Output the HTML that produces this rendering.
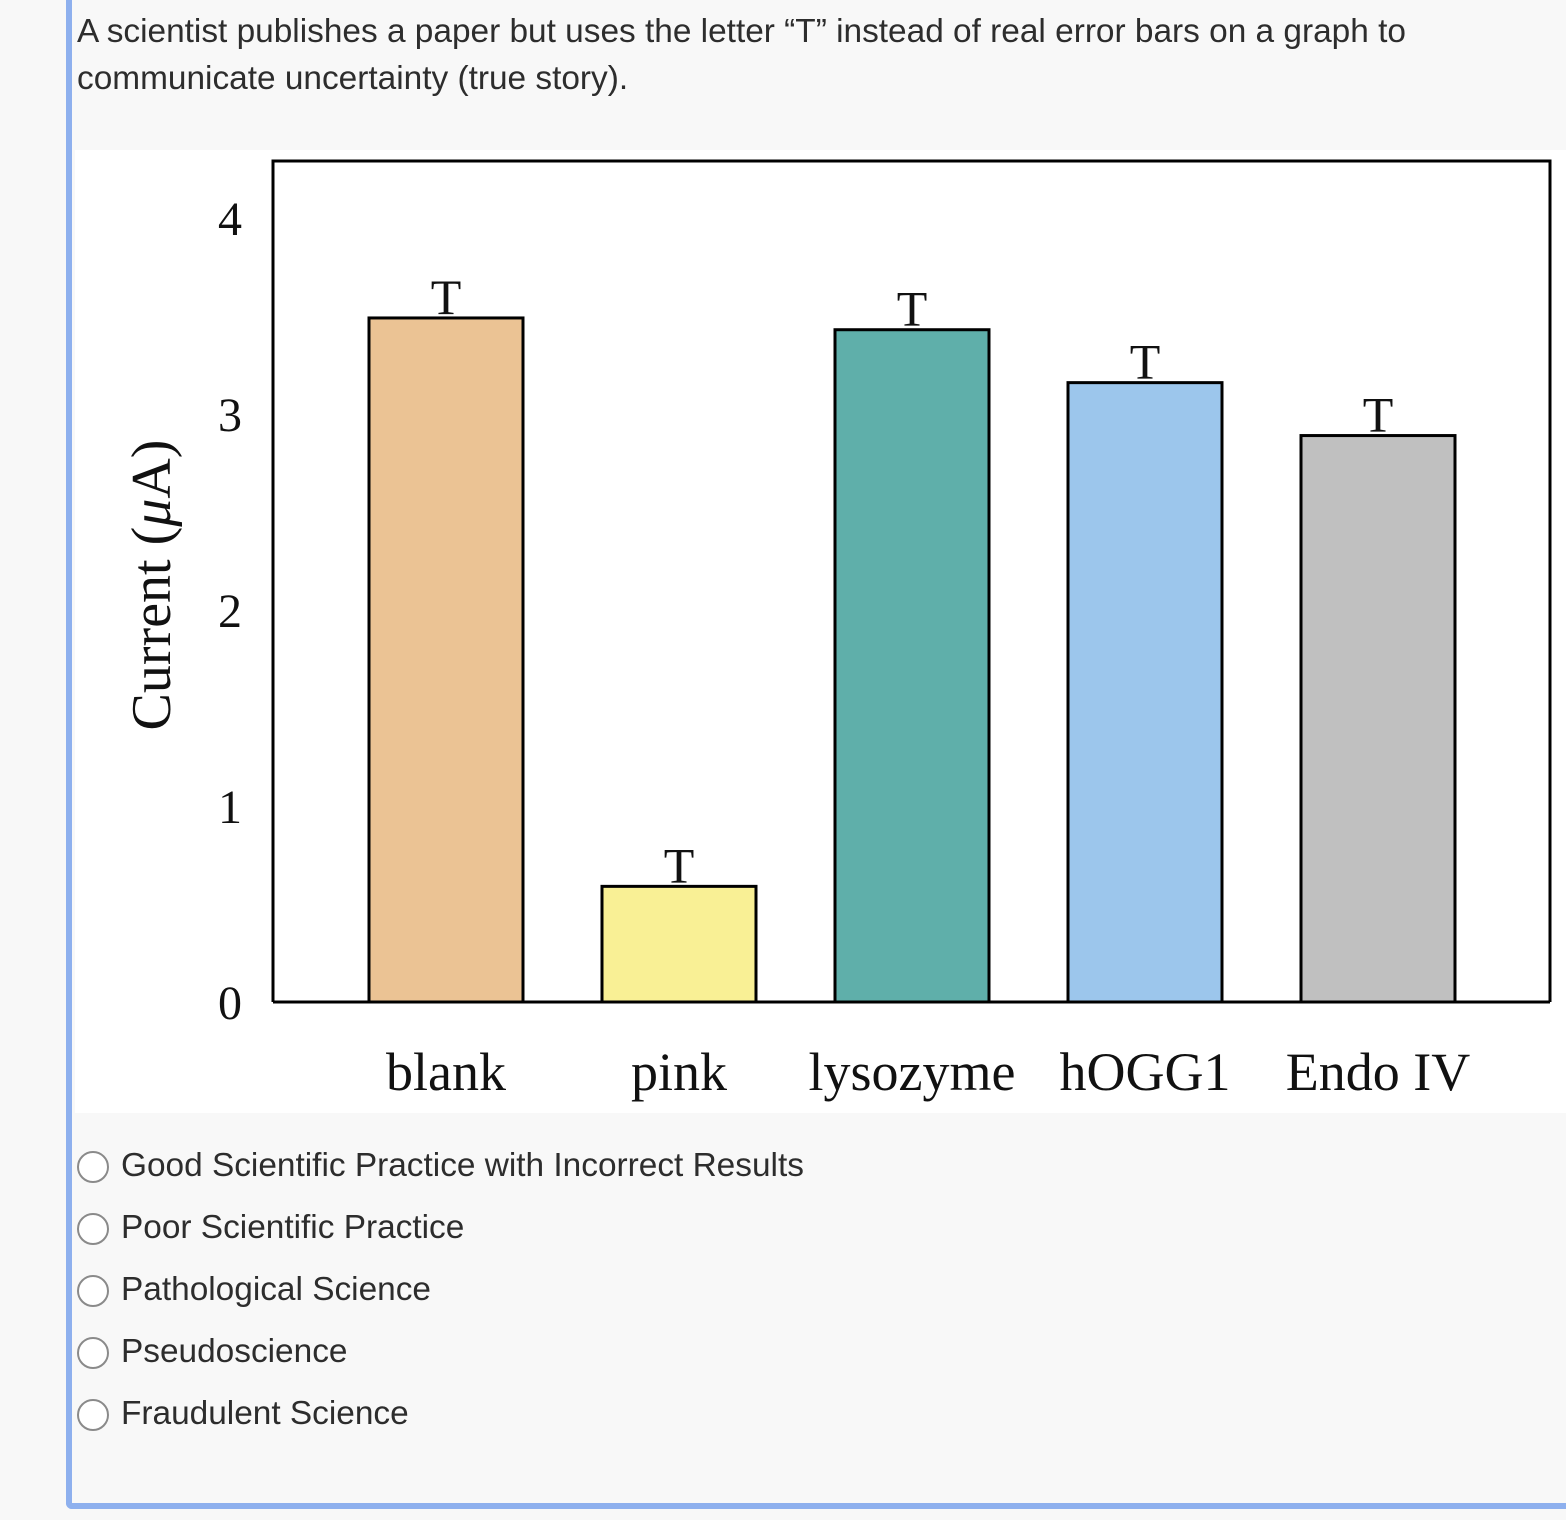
<!DOCTYPE html>
<html><head><meta charset="utf-8"><style>
body{margin:0;width:1566px;height:1520px;background:#f8f8f8;position:relative;overflow:hidden;font-family:"Liberation Sans","DejaVu Sans",sans-serif;color:#2d2d2d}
#frame{position:absolute;left:66px;top:0;width:1520px;height:1503px;border-left:6px solid #8eb0ee;border-bottom:6px solid #8eb0ee;border-bottom-left-radius:6px}
#q{position:absolute;left:77px;top:8px;font-size:33.4px;line-height:47px;width:1380px}
.opt{position:absolute;left:77px;height:40px;font-size:33.4px;line-height:40px}
.opt span.c{position:absolute;left:0px;top:5px;width:28px;height:28px;border:2px solid #8a8a8a;border-radius:50%;background:#fff}
.opt span.t{position:absolute;left:44px;white-space:nowrap}
</style></head><body>
<div id="frame"></div>
<div id="q">A scientist publishes a paper but uses the letter “T” instead of real error bars on a graph to communicate uncertainty (true story).</div>
<svg id="chart" style="position:absolute;left:0;top:0" width="1566" height="1520"></svg>
<div class="opt" style="top:1146px"><span class="c"></span><span class="t">Good Scientific Practice with Incorrect Results</span></div>
<div class="opt" style="top:1208px"><span class="c"></span><span class="t">Poor Scientific Practice</span></div>
<div class="opt" style="top:1270px"><span class="c"></span><span class="t">Pathological Science</span></div>
<div class="opt" style="top:1332px"><span class="c"></span><span class="t">Pseudoscience</span></div>
<div class="opt" style="top:1394px"><span class="c"></span><span class="t">Fraudulent Science</span></div>
<script>
const categories=["blank","pink","lysozyme","hOGG1","Endo IV"];
const values=[3.49,0.59,3.43,3.16,2.89];
const colors=["#ebc394","#f9f095","#5fafaa","#9cc6ec","#c0c0c0"];
const yTicks=[0,1,2,3,4];
const NS="http://www.w3.org/2000/svg";
const svg=document.getElementById('chart');
const y=v=>1002-v*196;
const x=i=>446+i*233;
function mk(t,a){const e=document.createElementNS(NS,t);for(const k in a)e.setAttribute(k,a[k]);svg.appendChild(e);return e;}
const bg=mk('rect',{x:75,y:150,width:1491,height:963,fill:'#fff'});


const box=mk('path',{d:'M273,1002 V161 H1550 V1002',fill:'none',stroke:'#000','stroke-width':3});


const ttl=mk('text',{x:0,y:0,transform:'translate(170,585) rotate(-90)','text-anchor':'middle','font-family':'Liberation Serif, serif','font-size':56,fill:'#111'});
ttl.innerHTML='Current (<tspan font-style="italic">μ</tspan>A)';


yTicks.forEach(v=>{const t=mk('text',{x:230,y:y(v)+17,'text-anchor':'middle','font-family':'Liberation Serif, serif','font-size':48,fill:'#111'});t.textContent=v;

});
categories.forEach((c,i)=>{
const cx=x(i);
const b=mk('rect',{x:cx-77,y:y(values[i]),width:154,height:1002-y(values[i]),fill:colors[i],stroke:'#000','stroke-width':3});


const t=mk('text',{x:cx,y:y(values[i])-4,'text-anchor':'middle','font-family':'Liberation Serif, serif','font-size':50,fill:'#111'});t.textContent='T';


const l=mk('text',{x:cx,y:1090,'text-anchor':'middle','font-family':'Liberation Serif, serif','font-size':54,fill:'#111'});l.textContent=c;


});
const axis=mk('line',{x1:273,y1:1002,x2:1550,y2:1002,stroke:'#000','stroke-width':3});


</script>
</body></html>
